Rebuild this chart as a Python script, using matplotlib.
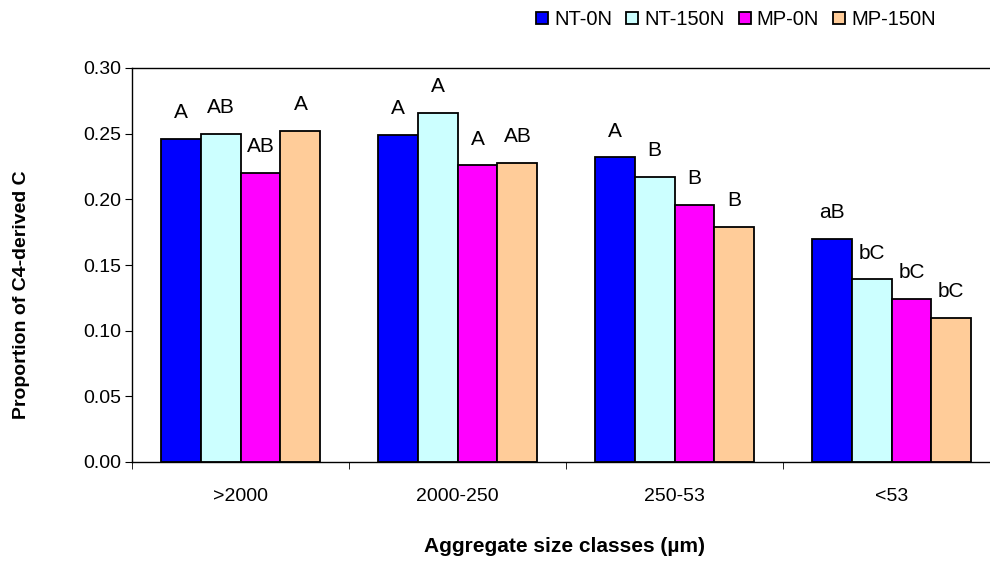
import matplotlib
matplotlib.use("Agg")
import matplotlib.pyplot as plt
import numpy as np

plt.rcParams["font.family"] = ["Liberation Sans", "DejaVu Sans"]

categories = [">2000", "2000-250", "250-53", "<53"]
series = ["NT-0N", "NT-150N", "MP-0N", "MP-150N"]
colors = ["#0000FF", "#CCFFFF", "#FF00FF", "#FFCC99"]

nt_0n = [0.246, 0.249, 0.232, 0.170]
nt_150n = [0.250, 0.266, 0.217, 0.139]
mp_0n = [0.220, 0.226, 0.196, 0.124]
mp_150n = [0.252, 0.228, 0.179, 0.110]
values = [nt_0n, nt_150n, mp_0n, mp_150n]

letters = [
    ["A", "A", "A", "aB"],
    ["AB", "A", "B", "bC"],
    ["AB", "A", "B", "bC"],
    ["A", "AB", "B", "bC"],
]

fig = plt.figure(figsize=(9.9, 5.63), dpi=100)
ax = fig.add_axes([132 / 990, 1 - 462 / 563, 868 / 990, 394 / 563])

x = np.arange(len(categories))
w = 0.184
for k, (name, vals, col) in enumerate(zip(series, values, colors)):
    pos = x + (k - 1.5) * w
    ax.bar(pos, vals, width=w, color=col, edgecolor="black", linewidth=1.3, label=name)
    for p, v, lab in zip(pos, vals, letters[k]):
        ax.annotate(lab, (p, v), xytext=(0, 12), textcoords="offset points",
                    ha="center", va="bottom", fontsize=15)

ax.set_xlim(-0.5, 3.5)
ax.set_ylim(0, 0.30)
yt = np.arange(0, 0.301, 0.05)
ax.set_yticks(yt)
ax.set_yticklabels([f"{t:.2f}" for t in yt], fontsize=14)
ax.set_xticks(x)
ax.set_xticklabels(categories, fontsize=14)
ax.set_xticks([-0.5, 0.5, 1.5, 2.5], minor=True)
ax.tick_params(axis="x", which="major", length=0, pad=19)
ax.tick_params(axis="x", which="minor", length=5, direction="out")
ax.tick_params(axis="y", length=5, direction="out", pad=3)

ax.spines["right"].set_visible(False)
for s in ["left", "bottom", "top"]:
    ax.spines[s].set_linewidth(1.0)

fig.text(22 / 990, 1 - 295 / 563, "Proportion of C4-derived C", rotation=90,
         ha="center", va="center", fontsize=14, fontweight="bold")
fig.text(565 / 990, 1 - 547 / 563, "Aggregate size classes (\u00b5m)", ha="center", va="center",
         fontsize=15, fontweight="bold")

fig.legend(loc="upper right", bbox_to_anchor=(946 / 990, 1.0), ncol=4, frameon=False,
           fontsize=14.5, handlelength=0.6, handleheight=0.6, handletextpad=0.3,
           columnspacing=0.7, borderaxespad=0.1)

fig.savefig("out.png", dpi=100)
